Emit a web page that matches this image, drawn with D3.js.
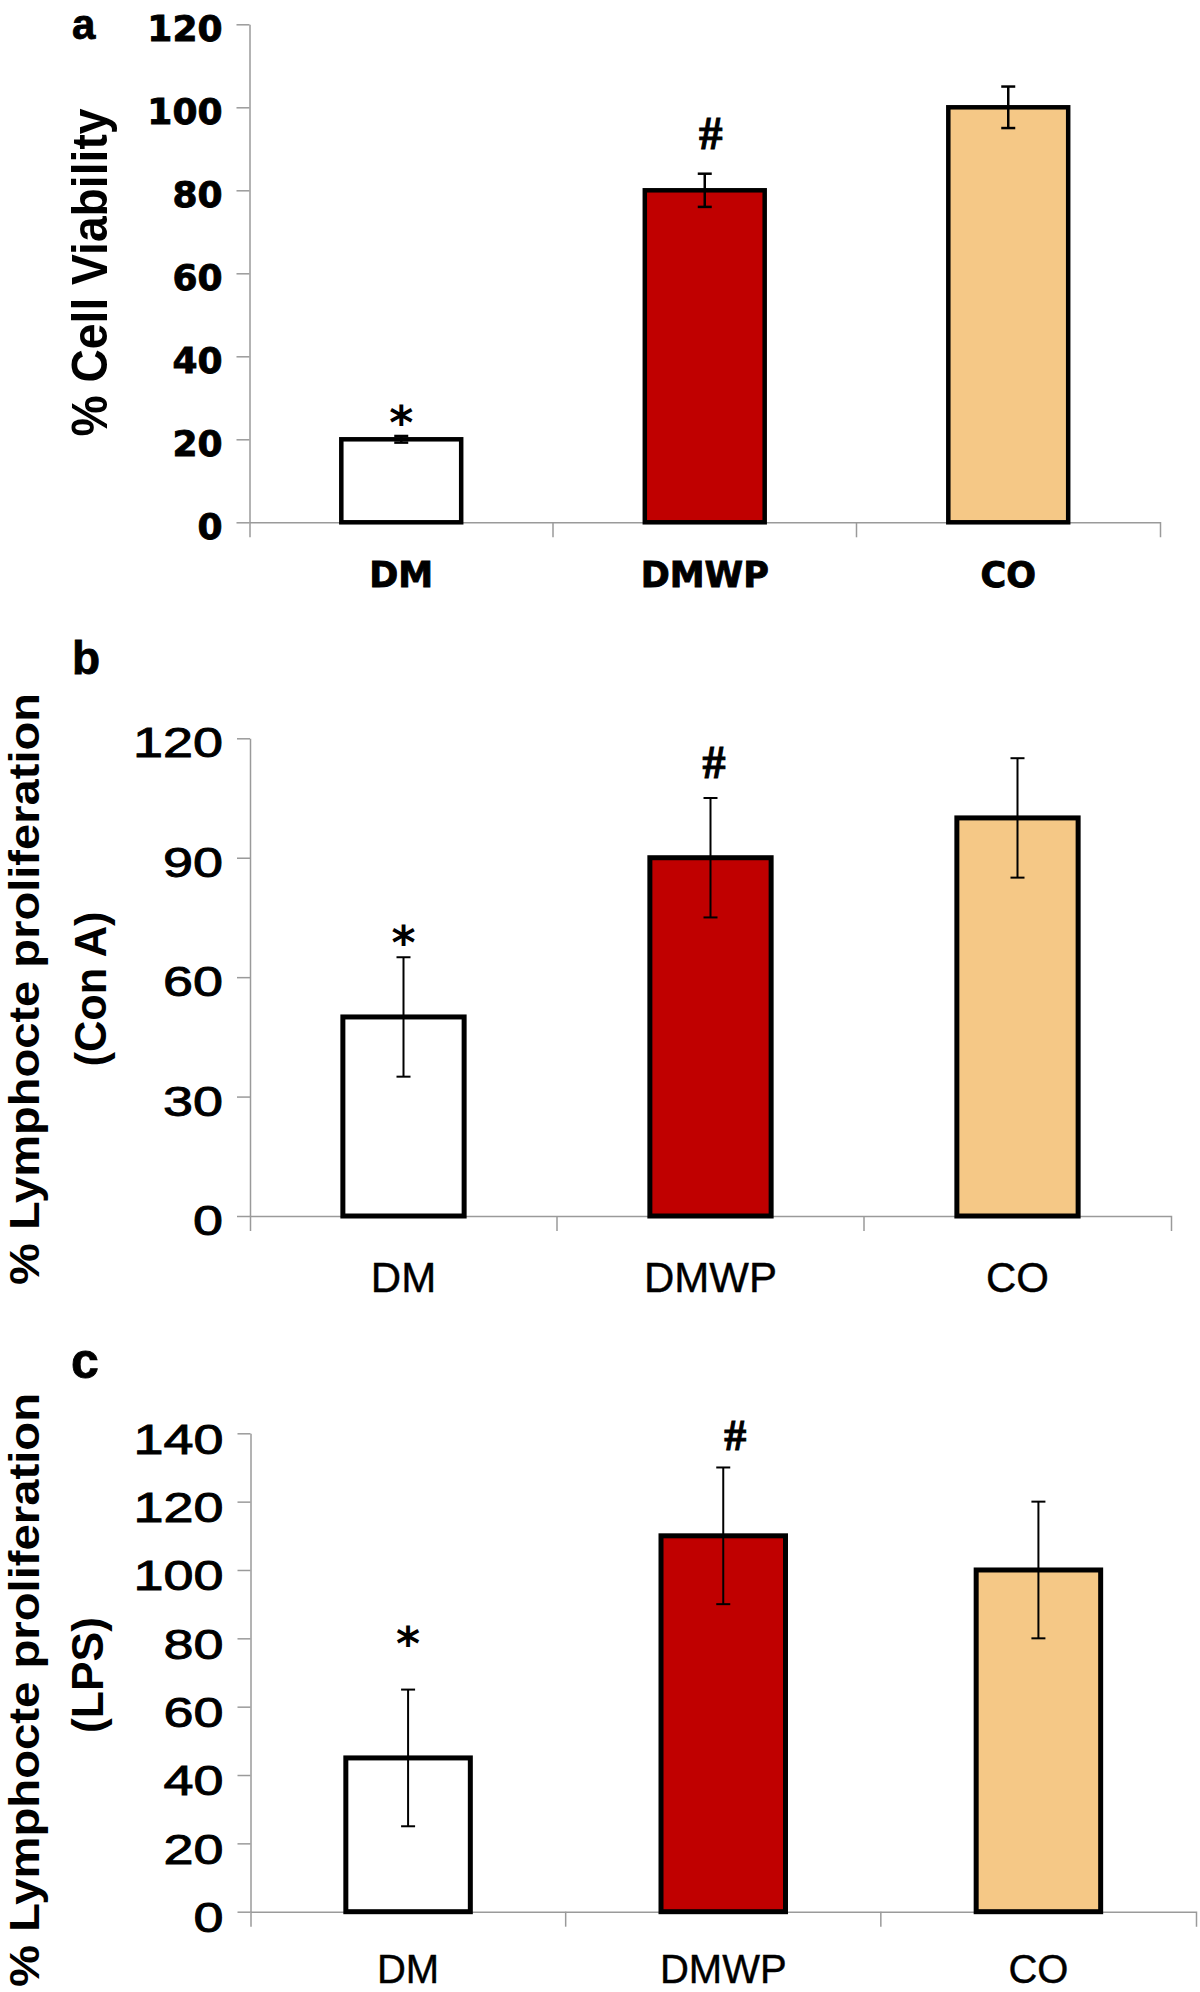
<!DOCTYPE html>
<html><head><meta charset="utf-8">
<script src="https://cdn.jsdelivr.net/npm/d3@7"></script>
<style>html,body{margin:0;padding:0;background:#fff;} svg{display:block;background:#fff;}</style>
</head><body>
<svg id="chart" width="1200" height="1992"></svg>
<script>
// ---------- data ----------
const categories = ["DM", "DMWP", "CO"];
const barColors = ["#FFFFFF", "#C00000", "#F5C886"];

const viabilityMean = [20, 80, 100];
const viabilityErr = [0.8, 4, 5];
const viabilityMarks = ["*", "#", ""];
const viabilityTicks = [0, 20, 40, 60, 80, 100, 120];

const conAMean = [50, 90, 100];
const conAErr = [15, 15, 15];
const conAMarks = ["*", "#", ""];
const conATicks = [0, 30, 60, 90, 120];

const lpsMean = [45, 110, 100];
const lpsErr = [20, 20, 20];
const lpsMarks = ["*", "#", ""];
const lpsTicks = [0, 20, 40, 60, 80, 100, 120, 140];

// ---------- layout / style ----------
const svg = d3.select("#chart");
const axisColor = "#9a9a9a";

const panels = [
  {
    letter: "a", letterX: 72, letterY: 38.5, letterSize: 42,
    x0: 249.5, x1: 1160, y0: 522.3, yTop: 24.3, yMax: 120,
    tickFont: "DejaVu Sans", tickWeight: "bold", tickSize: 36, tickDy: "0.44em", digitW: null, tickStroke: 0.9,
    catFont: "DejaVu Sans", catWeight: "bold", catSize: 35, catOffset: 64.7, catStroke: 0.9,
    yLabels: [{ text: "% Cell Viability", x: 106.7, cy: 272.5, len: 328, size: 50 }],
    barStroke: 4.5, errStroke: 2.5, capW: 14,
    starGap: -3, hashGap: 25, hashDx: 6, starSize: 46, hashSize: 47,
    means: viabilityMean, errs: viabilityErr, marks: viabilityMarks, ticks: viabilityTicks
  },
  {
    letter: "b", letterX: 72, letterY: 673.6, letterSize: 46,
    x0: 250, x1: 1171, y0: 1216, yTop: 738.3, yMax: 120,
    tickFont: "Liberation Sans", tickWeight: "normal", tickSize: 42, tickDy: "0.44em", digitW: 30, tickStroke: 0.9,
    catFont: "Liberation Sans", catWeight: "normal", catSize: 42, catOffset: 76, catStroke: 0.4,
    yLabels: [
      { text: "% Lymphocte proliferation", x: 38.5, cy: 989, len: 592, size: 42 },
      { text: "(Con A)", x: 106, cy: 989, len: 155, size: 44 }
    ],
    barStroke: 5, errStroke: 2, capW: 14,
    starGap: -2, hashGap: 19.6, hashDx: 3.5, starSize: 46, hashSize: 46,
    means: conAMean, errs: conAErr, marks: conAMarks, ticks: conATicks
  },
  {
    letter: "c", letterX: 71, letterY: 1378, letterSize: 50,
    x0: 250.5, x1: 1196, y0: 1911.7, yTop: 1433.3, yMax: 140,
    tickFont: "Liberation Sans", tickWeight: "normal", tickSize: 42, tickDy: "0.47em", digitW: 30, tickStroke: 0.9,
    catFont: "Liberation Sans", catWeight: "normal", catSize: 40, catOffset: 71.5, catStroke: 0.4,
    yLabels: [
      { text: "% Lymphocte proliferation", x: 38.5, cy: 1690, len: 594, size: 42 },
      { text: "(LPS)", x: 102.5, cy: 1675, len: 116, size: 44 }
    ],
    barStroke: 5, errStroke: 2, capW: 14,
    starGap: 30, hashGap: 17, hashDx: 12, starSize: 46, hashSize: 44,
    means: lpsMean, errs: lpsErr, marks: lpsMarks, ticks: lpsTicks
  }
];

function drawPanel(cfg) {
  const g = svg.append("g");
  const x = d3.scaleBand().domain(categories)
    .range([cfg.x0, cfg.x1]).paddingInner(0.605).paddingOuter(0.3025);
  const y = d3.scaleLinear().domain([0, cfg.yMax]).range([cfg.y0, cfg.yTop]);
  const data = categories.map((c, i) => ({
    cat: c, mean: cfg.means[i], err: cfg.errs[i], mark: cfg.marks[i], color: barColors[i]
  }));

  // x axis (line + end ticks + labels)
  const xAxis = g.append("g").attr("transform", `translate(0,${cfg.y0})`)
    .call(d3.axisBottom(x).tickSize(0).tickSizeOuter(15));
  xAxis.select(".domain").attr("stroke", axisColor).attr("stroke-width", 1.5);
  xAxis.selectAll(".tick line").remove();
  xAxis.selectAll(".tick text")
    .attr("y", cfg.catOffset).attr("dy", null)
    .attr("fill", "#000").attr("stroke", "#000").attr("stroke-width", cfg.catStroke)
    .style("font-family", cfg.catFont).style("font-weight", cfg.catWeight)
    .style("font-size", cfg.catSize + "px");

  // inner category boundary ticks
  const bounds = d3.range(1, categories.length).map(i => x.range()[0] + i * x.step());
  g.selectAll("line.btick").data(bounds).join("line").attr("class", "btick")
    .attr("x1", d => d).attr("x2", d => d)
    .attr("y1", cfg.y0).attr("y2", cfg.y0 + 15)
    .attr("stroke", axisColor).attr("stroke-width", 1.5);

  // y axis
  const yAxis = g.append("g").attr("transform", `translate(${cfg.x0},0)`)
    .call(d3.axisLeft(y).tickValues(cfg.ticks).tickSize(13).tickPadding(14).tickSizeOuter(0));
  yAxis.select(".domain").attr("stroke", axisColor).attr("stroke-width", 1.5);
  yAxis.selectAll(".tick line").attr("stroke", axisColor).attr("stroke-width", 1.5);
  const tt = yAxis.selectAll(".tick text")
    .attr("dy", cfg.tickDy).attr("fill", "#000")
    .attr("stroke", "#000").attr("stroke-width", cfg.tickStroke)
    .style("font-family", cfg.tickFont).style("font-weight", cfg.tickWeight)
    .style("font-size", cfg.tickSize + "px");
  if (cfg.digitW) {
    tt.attr("textLength", d => String(d).length * cfg.digitW)
      .attr("lengthAdjust", "spacingAndGlyphs");
  }

  // bars
  g.selectAll("rect.bar").data(data).join("rect").attr("class", "bar")
    .attr("x", d => x(d.cat)).attr("width", x.bandwidth())
    .attr("y", d => y(d.mean)).attr("height", d => y(0) - y(d.mean))
    .attr("fill", d => d.color).attr("stroke", "#000")
    .attr("stroke-width", cfg.barStroke).attr("stroke-linejoin", "miter");

  // error bars
  const cx = d => x(d.cat) + x.bandwidth() / 2;
  const eb = g.selectAll("g.err").data(data).join("g").attr("class", "err")
    .attr("stroke", "#000").attr("stroke-width", cfg.errStroke);
  eb.append("line").attr("x1", cx).attr("x2", cx)
    .attr("y1", d => y(d.mean - d.err)).attr("y2", d => y(d.mean + d.err));
  eb.append("line").attr("x1", d => cx(d) - cfg.capW / 2).attr("x2", d => cx(d) + cfg.capW / 2)
    .attr("y1", d => y(d.mean + d.err)).attr("y2", d => y(d.mean + d.err));
  eb.append("line").attr("x1", d => cx(d) - cfg.capW / 2).attr("x2", d => cx(d) + cfg.capW / 2)
    .attr("y1", d => y(d.mean - d.err)).attr("y2", d => y(d.mean - d.err));

  // significance marks
  g.selectAll("text.mark").data(data.filter(d => d.mark)).join("text").attr("class", "mark")
    .attr("x", d => cx(d) + (d.mark === "#" ? cfg.hashDx : 0))
    .attr("y", d => y(d.mean + d.err) - (d.mark === "#" ? cfg.hashGap : cfg.starGap))
    .attr("text-anchor", "middle").attr("fill", "#000")
    .attr("stroke", "#000").attr("stroke-width", d => d.mark === "#" ? 1 : 0)
    .style("font-family", d => d.mark === "#" ? "Liberation Serif" : "DejaVu Sans")
    .style("font-weight", "bold")
    .style("font-size", d => (d.mark === "#" ? cfg.hashSize : cfg.starSize) + "px")
    .text(d => d.mark);

  // y label(s)
  cfg.yLabels.forEach(l => {
    g.append("text")
      .attr("transform", `translate(${l.x},${l.cy}) rotate(-90)`)
      .attr("text-anchor", "middle")
      .attr("textLength", l.len).attr("lengthAdjust", "spacingAndGlyphs")
      .style("font-family", "Liberation Sans").style("font-weight", "bold")
      .style("font-size", l.size + "px").attr("fill", "#000")
      .text(l.text);
  });

  // panel letter
  g.append("text").attr("x", cfg.letterX).attr("y", cfg.letterY)
    .style("font-family", "Liberation Sans").style("font-weight", "bold")
    .style("font-size", cfg.letterSize + "px").attr("fill", "#000")
    .attr("stroke", "#000").attr("stroke-width", 0.8)
    .text(cfg.letter);
}

panels.forEach(drawPanel);
</script>
</body></html>
